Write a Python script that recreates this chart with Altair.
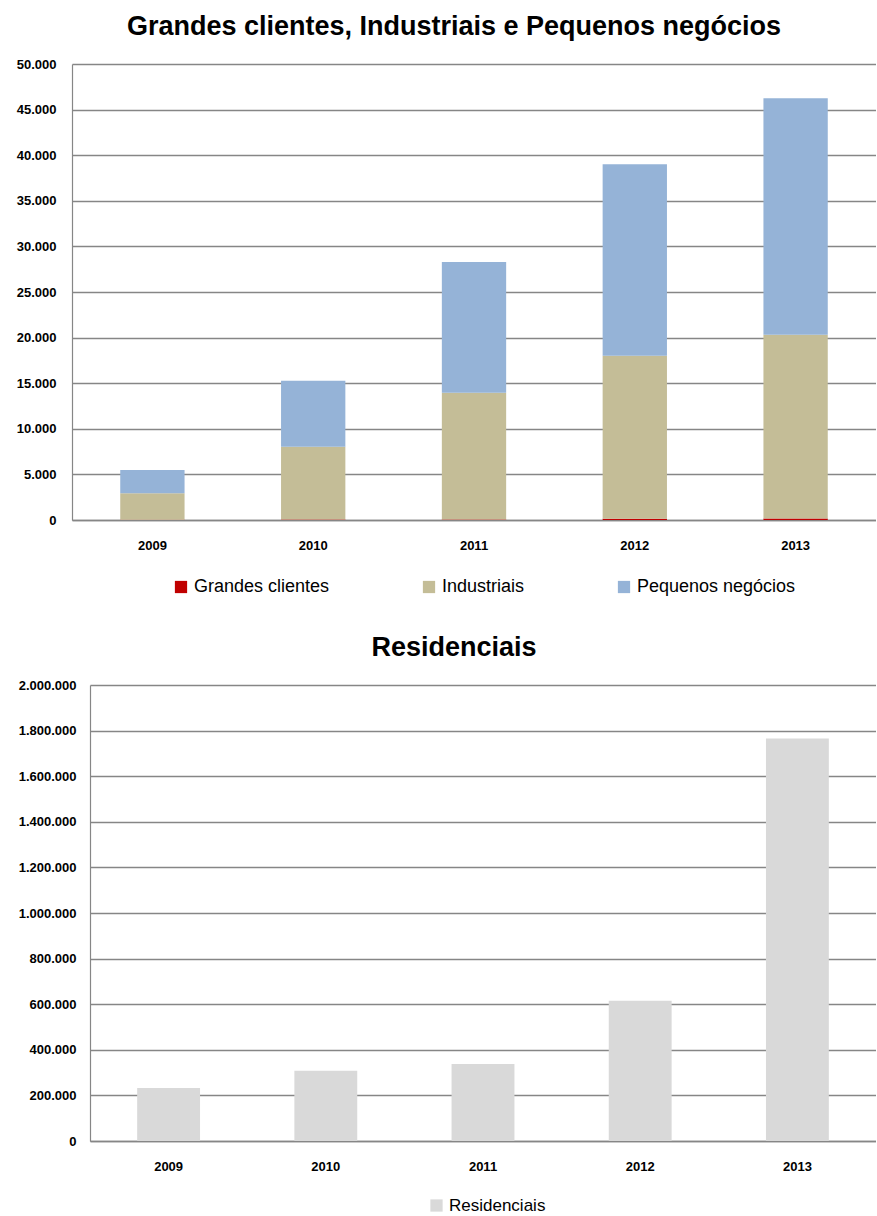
import altair as alt
import pandas as pd

years = ["2009", "2010", "2011", "2012", "2013"]
series = ["Grandes clientes", "Industriais", "Pequenos negócios"]
grandes = [40, 50, 60, 150, 170]
industriais = [2890, 7980, 13890, 17850, 20130]
pequenos = [2550, 7230, 14330, 21010, 25950]
residenciais = [233000, 308000, 338000, 615000, 1765000]
colors = ["#C00000", "#C4BD97", "#95B3D7"]
res_color = "#D9D9D9"

rows = []
for i, y in enumerate(years):
    for k, (name, vals) in enumerate(zip(series, [grandes, industriais, pequenos])):
        rows.append({"ano": y, "serie": name, "valor": vals[i], "ordem": k})
df_top = pd.DataFrame(rows)
df_res = pd.DataFrame({"ano": years, "valor": residenciais, "serie": ["Residenciais"] * len(years)})

label_expr = "replace(format(datum.value, ','), regexp(',', 'g'), '.')"
FONT = "Liberation Sans"
GRID = "#868686"
W = 804
SHIFT = 18  # bottom plot starts a little further right than the top one

def x_axis():
    return alt.Axis(title=None, labelAngle=0, ticks=False, labelFontWeight="bold",
                    labelFontSize=13, labelFont=FONT, labelColor="black",
                    labelPadding=19, domainColor=GRID, domainWidth=1.5)

def y_axis(step, pad, offset=0):
    return alt.Axis(title=None, labelExpr=label_expr, ticks=False, labelFontWeight="bold",
                    labelFontSize=13, labelFont=FONT, labelColor="black", labelPadding=pad,
                    gridColor=GRID, gridWidth=1.3, domainColor=GRID, domainWidth=1.2,
                    offset=offset, values=list(range(0, step * 11, step)))

def legend(x, y, size=18):
    return alt.Legend(orient="none", legendX=x, legendY=y, direction="horizontal", title=None,
                      symbolType="square", symbolSize=150, symbolStrokeWidth=0,
                      labelFontSize=size, labelFont=FONT, labelColor="black", columnPadding=90)

top = alt.Chart(df_top).mark_bar().encode(
    x=alt.X("ano:N", axis=x_axis(), scale=alt.Scale(paddingInner=0.6, paddingOuter=0.3)),
    y=alt.Y("sum(valor):Q", axis=y_axis(5000, 16), scale=alt.Scale(domain=[0, 50000], nice=False)),
    color=alt.Color("serie:N", scale=alt.Scale(domain=series, range=colors),
                    legend=legend(100, 514)),
    order=alt.Order("ordem:Q", sort="ascending"),
).properties(
    width=W, height=456,
    title=alt.TitleParams("Grandes clientes, Industriais e Pequenos negócios", fontSize=27,
                          font=FONT, fontWeight="bold", color="black", anchor="middle",
                          dx=-20, offset=17),
)

bottom = alt.Chart(df_res).mark_bar().encode(
    x=alt.X("ano:N", axis=x_axis(),
            scale=alt.Scale(paddingInner=0.6, paddingOuter=0.3, range=[SHIFT, W])),
    y=alt.Y("valor:Q", axis=y_axis(200000, 14, -SHIFT),
            scale=alt.Scale(domain=[0, 2000000], nice=False)),
    color=alt.Color("serie:N", scale=alt.Scale(domain=["Residenciais"], range=[res_color]),
                    legend=legend(356, 512, 17)),
).properties(
    width=W, height=456,
    title=alt.TitleParams("Residenciais", fontSize=27, font=FONT, fontWeight="bold",
                          color="black", anchor="middle", dx=-20, offset=17),
)

chart = alt.vconcat(top, bottom, spacing=38).resolve_scale(
    color="independent"
).properties(
    padding={"left": 16, "top": 13, "right": 0, "bottom": 0}
).configure_view(stroke=None)

chart.save("out.html", embed_options={"renderer": "svg", "actions": False})
